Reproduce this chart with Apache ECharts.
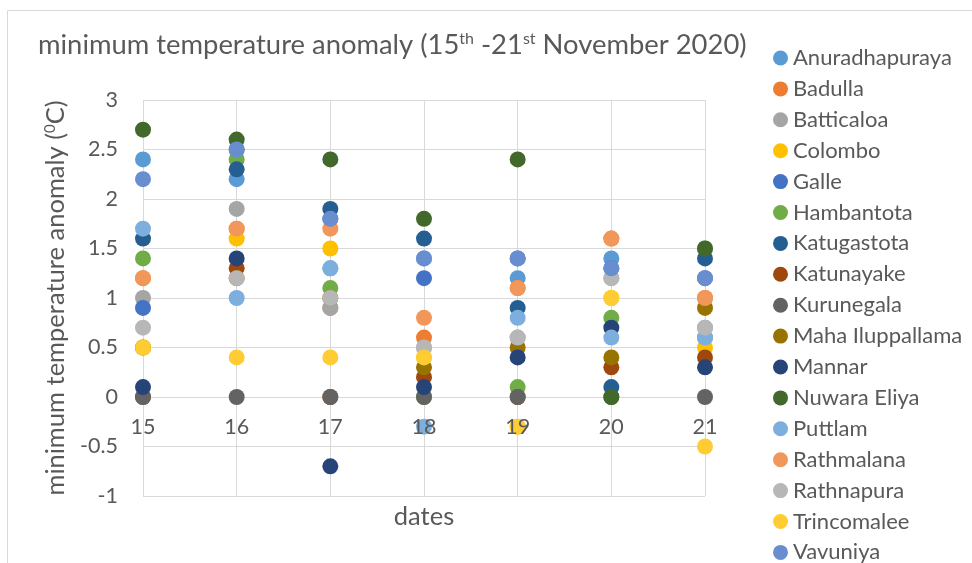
<!DOCTYPE html>
<html>
<head>
<meta charset="utf-8">
<script src="https://cdn.jsdelivr.net/npm/echarts@6/dist/echarts.min.js"></script>
<style>
html,body{margin:0;padding:0;background:#fff;}
#chart{width:972px;height:563px;}
</style>
</head>
<body>
<div id="chart"></div>
<script>
// dates (days of November 2020)
const dates = [15, 16, 17, 18, 19, 20, 21];
const stations = ['Anuradhapuraya','Badulla','Batticaloa','Colombo','Galle','Hambantota','Katugastota','Katunayake','Kurunegala','Maha Iluppallama','Mannar','Nuwara Eliya','Puttlam','Rathmalana','Rathnapura','Trincomalee','Vavuniya'];
const anuradhapuraya = [2.4, 2.2, 1.3, 1.4, 1.2, 1.4, 0.6];
const badulla        = [1.2, 1.7, 0.9, 0.6, 1.1, 1.6, 1.0];
const batticaloa     = [1.0, 1.9, 0.9, 0.5, 0.6, 1.2, 0.7];
const colombo        = [0.5, 1.6, 1.5, 0.4, -0.3, 1.0, 0.5];
const galle          = [0.9, 2.5, 1.8, 1.2, 1.4, 1.3, 1.2];
const hambantota     = [1.4, 2.4, 1.1, 0.0, 0.1, 0.8, 1.5];
const katugastota    = [1.6, 2.3, 1.9, 1.6, 0.9, 0.1, 1.4];
const katunayake     = [0.0, 1.3, 0.0, 0.2, 0.0, 0.3, 0.4];
const kurunegala     = [0.0, 0.0, 0.0, 0.0, 0.0, 0.0, 0.0];
const mahaIluppallama= [0.5, 1.2, 1.0, 0.3, 0.5, 0.4, 0.9];
const mannar         = [0.1, 1.4, -0.7, 0.1, 0.4, 0.7, 0.3];
const nuwaraEliya    = [2.7, 2.6, 2.4, 1.8, 2.4, 0.0, 1.5];
const puttlam        = [1.7, 1.0, 1.3, -0.3, 0.8, 0.6, 0.6];
const rathmalana     = [1.2, 1.7, 1.7, 0.8, 1.1, 1.6, 1.0];
const rathnapura     = [0.7, 1.2, 1.0, 0.5, 0.6, 1.2, 0.7];
const trincomalee    = [0.5, 0.4, 0.4, 0.4, -0.3, 1.0, -0.5];
const vavuniya       = [2.2, 2.5, 1.8, 1.4, 1.4, 1.3, 1.2];
const yTicks = [-1, -0.5, 0, 0.5, 1, 1.5, 2, 2.5, 3];

const seriesValues = [anuradhapuraya, badulla, batticaloa, colombo, galle, hambantota, katugastota, katunayake, kurunegala, mahaIluppallama, mannar, nuwaraEliya, puttlam, rathmalana, rathnapura, trincomalee, vavuniya];
const colors = ['#5B9BD5','#ED7D31','#A5A5A5','#FFC000','#4472C4','#70AD47','#255E91','#9E480E','#636363','#997300','#264478','#43682B','#7CAFDD','#F1975A','#B7B7B7','#FFCD33','#698ED0'];

const FONT = 'Lato';
const TXT = '#595959';

const chart = echarts.init(document.getElementById('chart'));
chart.setOption({
  animation: false,
  color: colors,
  textStyle: {fontFamily: FONT},
  title: {
    text: 'minimum temperature anomaly (15{sup|th} -21{sup|st} November 2020)',
    left: 33, top: 26,
    textStyle: {
      fontFamily: FONT, fontSize: 27.4, fontWeight: 'normal', color: TXT,
      rich: {sup: {fontFamily: FONT, fontSize: 16, color: TXT, verticalAlign: 'top', padding: [0,0,12,0]}}
    }
  },
  graphic: [{
    type: 'rect', shape: {x: 7.5, y: 10.5, width: 1000, height: 600},
    style: {fill: 'none', stroke: '#d9d9d9', lineWidth: 1}, silent: true, z: -10
  }],
  legend: {
    orient: 'vertical', left: 773, top: 47, height: 520, padding: 0,
    icon: 'circle', itemWidth: 15, itemHeight: 15, itemGap: 8.9,
    textStyle: {fontFamily: FONT, fontSize: 22, color: TXT, lineHeight: 22},
    data: stations
  },
  grid: [
    {left: 143, right: 267, top: 100, bottom: 67, outerBoundsMode: 'none', containLabel: false},
    // helper grid whose bottom edge sits on the y = 0 line, carrying the date labels
    {left: 143, right: 267, top: 100, bottom: 166, outerBoundsMode: 'none', containLabel: false}
  ],
  xAxis: [{
    gridIndex: 0,
    type: 'value', min: 15, max: 21, interval: 1, position: 'bottom',
    name: 'dates', nameLocation: 'middle', nameGap: 8,
    nameTextStyle: {fontFamily: FONT, fontSize: 25.5, color: TXT},
    axisLine: {show: false, onZero: false},
    axisTick: {show: false},
    axisLabel: {show: false},
    splitLine: {show: true, lineStyle: {color: '#d9d9d9', width: 1}},
    z: 0
  }, {
    gridIndex: 1,
    type: 'value', min: 15, max: 21, interval: 1, position: 'bottom',
    axisLine: {show: false, onZero: false},
    axisTick: {show: false},
    axisLabel: {show: true, fontFamily: FONT, fontSize: 21.5, color: TXT, margin: 19},
    splitLine: {show: false},
    z: 10
  }],
  yAxis: [{
    gridIndex: 0,
    type: 'value', min: -1, max: 3, interval: 0.5,
    name: '{a|minimum temperature anomaly (}{sup|0}{a|C)}',
    nameLocation: 'middle', nameGap: 68, nameRotate: 90,
    nameTextStyle: {
      rich: {
        a: {fontFamily: FONT, fontSize: 25.5, color: TXT},
        sup: {fontFamily: FONT, fontSize: 15, color: TXT, verticalAlign: 'top', padding: [0,0,11,0]}
      }
    },
    axisLine: {show: false}, axisTick: {show: false},
    axisLabel: {fontFamily: FONT, fontSize: 21.5, color: TXT, margin: 25},
    splitLine: {show: true, lineStyle: {color: '#d9d9d9', width: 1}}
  }, {
    gridIndex: 1,
    type: 'value', min: 0, max: 3, interval: 0.5,
    axisLine: {show: false}, axisTick: {show: false},
    axisLabel: {show: false}, splitLine: {show: false}
  }],
  series: stations.map((name, i) => ({
    name: name, type: 'scatter', xAxisIndex: 0, yAxisIndex: 0,
    symbol: 'circle', symbolSize: 16, z: 2,
    itemStyle: {color: colors[i], opacity: 1},
    data: dates.map((d, j) => [d, seriesValues[i][j]])
  }))
});
</script>
</body>
</html>
